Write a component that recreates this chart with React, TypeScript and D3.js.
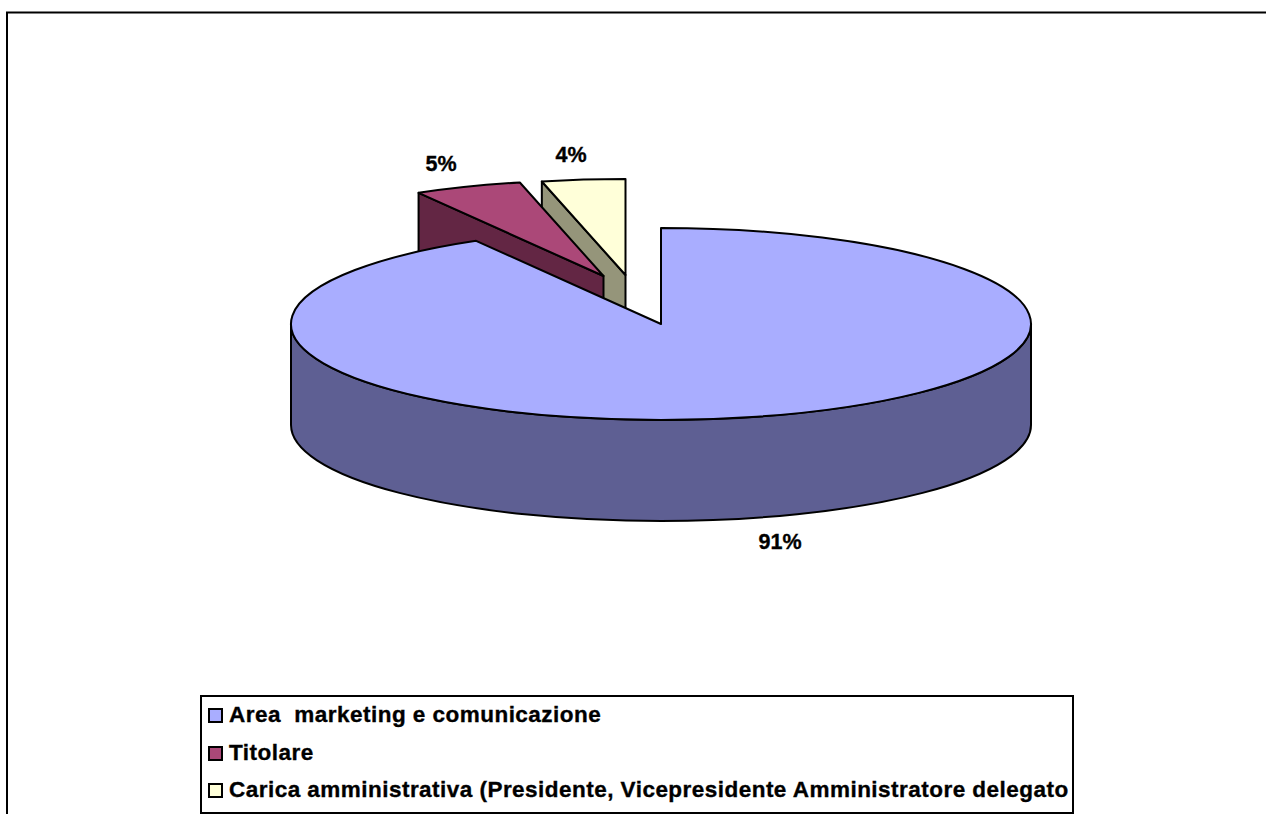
import React from "react";
import * as d3 from "d3";

const categories = ["Area  marketing e comunicazione", "Titolare", "Carica amministrativa (Presidente, Vicepresidente Amministratore delegato"];
const values = [91.67, 4.7, 3.63];
const valueLabels = ["91%", "5%", "4%"];
const topColors = ["#a9adff", "#ab4878", "#ffffd9"];
const sideColors = ["#5e5f93", "#632644", "#95957a"];

const W = 1266, H = 814;
const RX = 370, RY = 96, DEPTH = 101;
// slice apex on the top plane, exploded slices are offset
const apex = [[661, 324], [603.5, 276], [625.5, 275]];
const labelPos = [[780, 549], [441, 171], [571, 162]];
const sideDepth = DEPTH;

const arcs = d3.pie<number>().sort(null).startAngle(0).endAngle(2 * Math.PI)(values);
const arcGen = d3.arc<any>().innerRadius(0).outerRadius(RX);
const pt = (i: number, a: number, dy = 0): [number, number] => [
  apex[i][0] + RX * Math.sin(a),
  apex[i][1] - RY * Math.cos(a) + dy,
];

// the outer wall of the main slice: its visible lower half
const mainSide = () => {
  const l = pt(0, -Math.PI / 2), r = pt(0, Math.PI / 2);
  return `M${l[0]},${l[1]} A${RX},${RY} 0 0 0 ${r[0]},${r[1]} L${r[0]},${r[1] + sideDepth} A${RX},${RY} 0 0 1 ${l[0]},${l[1] + sideDepth} Z`;
};
// the cut wall running from an apex to the slice's start angle (or end)
const cutWall = (i: number, a: number) => {
  const p = pt(i, a);
  const [ax, ay] = apex[i];
  return `M${p[0]},${p[1]} L${ax},${ay} L${ax},${ay + sideDepth} L${p[0]},${p[1] + sideDepth} Z`;
};

const legendY = [722, 760, 797];
const font = "'Liberation Sans', Arial, sans-serif";

export default function App() {
  return (
    <svg width={W} height={H} viewBox={`0 0 ${W} ${H}`} style={{ position: "absolute", left: 0, top: 0, display: "block", background: "#fff" }}>
      <defs>
        <clipPath id="legendClip"><rect x={202} y={696} width={871} height={117} /></clipPath>
      </defs>
      <path d={`M1266,12.5 H7 V814`} fill="none" stroke="#000" strokeWidth={2} />

      {/* slices are painted back to front */}
      {[2, 1].map((i) => (
        <g key={i} stroke="#000" strokeWidth={2} strokeLinejoin="round">
          <path d={cutWall(i, arcs[i].startAngle)} fill={sideColors[i]} />
          <path d={arcGen(arcs[i]) as string} transform={`translate(${apex[i][0]},${apex[i][1]}) scale(1,${RY / RX})`} fill={topColors[i]} vectorEffect="non-scaling-stroke" />
        </g>
      ))}
      <g stroke="#000" strokeWidth={2} strokeLinejoin="round">
        <path d={mainSide()} fill={sideColors[0]} />
        <path d={arcGen(arcs[0]) as string} transform={`translate(${apex[0][0]},${apex[0][1]}) scale(1,${RY / RX})`} fill={topColors[0]} vectorEffect="non-scaling-stroke" />
      </g>

      {valueLabels.map((t, i) => (
        <text key={t} x={labelPos[i][0]} y={labelPos[i][1]} textAnchor="middle" fontFamily={font} fontWeight={700} fontSize={21.5} stroke="#000" strokeWidth={0.35} fill="#000">{t}</text>
      ))}

      <rect x={201} y={696} width={872} height={117} fill="#fff" stroke="#000" strokeWidth={2} />
      <g clipPath="url(#legendClip)">
        {categories.map((c, i) => (
          <g key={c}>
            <rect x={209} y={legendY[i] - 13} width={13} height={13} fill={topColors[i]} stroke="#000" strokeWidth={2} />
            <text x={229} y={legendY[i]} fontFamily={font} fontWeight={700} fontSize={22.5} letterSpacing={0.47} stroke="#000" strokeWidth={0.35} fill="#000" style={{ whiteSpace: "pre" }}>{c}</text>
          </g>
        ))}
      </g>
    </svg>
  );
}
